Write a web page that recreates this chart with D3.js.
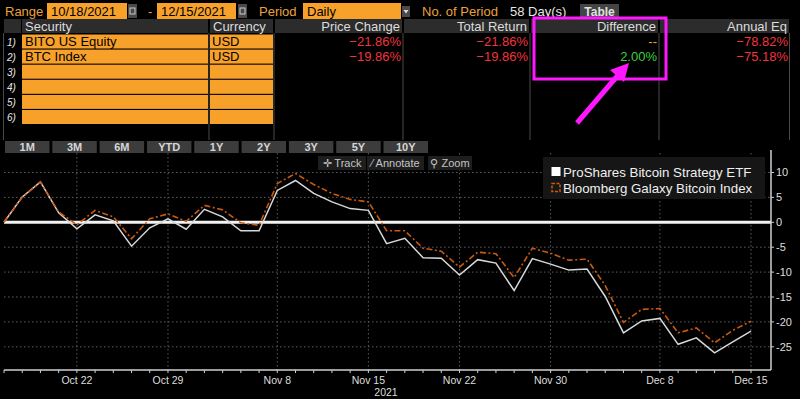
<!DOCTYPE html>
<html lang="en">
<head>
<meta charset="UTF-8">
<title>BITO vs BTC Index</title>
<script src="https://d3js.org/d3.v7.min.js"></script>
<style>
  body { margin: 0; background: #000; overflow: hidden; }
  svg text { font-family: "Liberation Sans", Arial, sans-serif; }
</style>
</head>
<body>
<script>
// trading days shown on the chart
const dates = [
  "2021-10-18","2021-10-19","2021-10-20","2021-10-21","2021-10-22",
  "2021-10-25","2021-10-26","2021-10-27","2021-10-28","2021-10-29",
  "2021-11-01","2021-11-02","2021-11-03","2021-11-04","2021-11-05",
  "2021-11-08","2021-11-09","2021-11-10","2021-11-11","2021-11-12",
  "2021-11-15","2021-11-16","2021-11-17","2021-11-18","2021-11-19",
  "2021-11-22","2021-11-23","2021-11-24","2021-11-26",
  "2021-11-29","2021-11-30","2021-12-01","2021-12-02","2021-12-03",
  "2021-12-06","2021-12-07","2021-12-08","2021-12-09","2021-12-10",
  "2021-12-13","2021-12-14","2021-12-15"
];
// ProShares Bitcoin Strategy ETF, % change
const bito = [0, 5.1, 8.1, 1.9, -1.3, 1.5, 0.3, -4.8, -1.1, 0.7,
  -1.4, 2.6, 1.1, -1.7, -1.7, 6.4, 8.4, 5.8, 4.1, 2.75,
  2.4, -4.3, -3.2, -7.1, -7.2, -10.6, -7.5, -8.2, -13.7,
  -7.3, -8.4, -9.6, -9.4, -14.9, -22.2, -19.8, -19.3, -24.5, -23.2,
  -26.2, -24.0, -21.86];
// Bloomberg Galaxy Bitcoin Index, % change
const btc = [0, 5.0, 8.1, 2.1, -0.5, 2.4, 1.1, -3.3, 0.7, 1.7,
  0.2, 3.4, 2.5, -0.1, -0.6, 7.8, 9.8, 7.6, 5.8, 4.6,
  4.1, -1.7, -1.7, -5.2, -5.8, -9.0, -6.0, -6.3, -11.1,
  -5.2, -6.2, -7.6, -7.4, -12.7, -20.1, -17.5, -17.3, -22.2, -21.2,
  -24.2, -21.7, -19.86];
const xLabelDates = ["2021-10-22","2021-10-29","2021-11-08","2021-11-15","2021-11-22","2021-11-30","2021-12-08","2021-12-15"];
const yTicks = [10, 5, 0, -5, -10, -15, -20, -25];

// table
const securities = ["BITO US Equity", "BTC Index"];
const currencies = ["USD", "USD"];
const priceChange = [-21.86, -19.86];
const totalReturn = [-21.86, -19.86];
const difference = [null, 2.00];
const annualEq = [-78.82, -75.18];
const periods = ["1M","3M","6M","YTD","1Y","2Y","3Y","5Y","10Y"];
const seriesNames = ["ProShares Bitcoin Strategy ETF", "Bloomberg Galaxy Bitcoin Index"];

const W = 800, H = 399;
const ORANGE = "#f7a12b", LABEL = "#eba23a", RED = "#f0343e", GREEN = "#38d23a";

const svg = d3.select("body").append("svg")
  .attr("width", W).attr("height", H)
  .style("background", "#000");

// ---------- top bar ----------
const bar = svg.append("g");
bar.append("text").attr("x", 5).attr("y", 16).attr("fill", LABEL).attr("font-size", 13).text("Range");
function inputBox(x, w, txt) {
  bar.append("rect").attr("x", x).attr("y", 3).attr("width", w).attr("height", 16).attr("fill", ORANGE);
  bar.append("text").attr("x", x + 4).attr("y", 16).attr("fill", "#000").attr("font-size", 13).text(txt);
}
function calIcon(x) {
  bar.append("rect").attr("x", x).attr("y", 4).attr("width", 9).attr("height", 14).attr("fill", "#4a4a4a");
  bar.append("rect").attr("x", x + 2).attr("y", 8).attr("width", 5).attr("height", 6)
    .attr("fill", "none").attr("stroke", "#ccc").attr("stroke-width", 1);
}
inputBox(47, 80, "10/18/2021"); calIcon(128);
bar.append("text").attr("x", 148).attr("y", 16).attr("fill", LABEL).attr("font-size", 13).text("-");
inputBox(157, 79, "12/15/2021"); calIcon(238);
bar.append("text").attr("x", 259).attr("y", 16).attr("fill", LABEL).attr("font-size", 13).text("Period");
inputBox(303, 98, "Daily");
bar.append("rect").attr("x", 402).attr("y", 6).attr("width", 8).attr("height", 11).attr("fill", "#4a4a4a");
bar.append("path").attr("d", "M403.5,10L408.5,10L406,13.5Z").attr("fill", "#ddd");
bar.append("text").attr("x", 422).attr("y", 16).attr("fill", LABEL).attr("font-size", 13).text("No. of Period");
bar.append("text").attr("x", 510).attr("y", 16).attr("fill", "#e6e6e6").attr("font-size", 13).text("58 Day(s)");
bar.append("rect").attr("x", 580).attr("y", 4).attr("width", 39).attr("height", 15).attr("fill", "#444");
bar.append("text").attr("x", 599.5).attr("y", 16).attr("text-anchor", "middle").attr("fill", "#e0e0e0")
  .attr("font-size", 12).attr("font-weight", "bold").text("Table");

// ---------- table ----------
const cols = [
  {x0: 4, x1: 21, head: "", anchor: "start"},
  {x0: 22, x1: 208, head: "Security", anchor: "start"},
  {x0: 210, x1: 273, head: "Currency", anchor: "start"},
  {x0: 275, x1: 402, head: "Price Change", anchor: "end"},
  {x0: 404, x1: 529, head: "Total Return", anchor: "end"},
  {x0: 531, x1: 658, head: "Difference", anchor: "end"},
  {x0: 660, x1: 789, head: "Annual Eq", anchor: "end"}
];
const tbl = svg.append("g");
cols.forEach(c => {
  tbl.append("rect").attr("x", c.x0).attr("y", 19).attr("width", c.x1 - c.x0).attr("height", 14).attr("fill", "#2c2c2c");
  if (c.head) {
    tbl.append("text")
      .attr("x", c.anchor === "start" ? c.x0 + 3 : c.x1 - 2)
      .attr("y", 30.5).attr("text-anchor", c.anchor)
      .attr("fill", "#dcdcdc").attr("font-size", 13).text(c.head);
  }
});
// vertical separators
[3.5, 209, 274, 403, 530, 659, 789.5].forEach(x => {
  tbl.append("line").attr("x1", x).attr("x2", x).attr("y1", 33).attr("y2", 140)
    .attr("stroke", "#4a4a4a").attr("stroke-width", 1);
});
const rowY = d3.range(6).map(i => 34.5 + i * 15.1);
rowY.forEach((y, i) => {
  tbl.append("text").attr("x", 7).attr("y", y + 11).attr("fill", "#e8e8e8")
    .attr("font-size", 10).attr("font-style", "italic").text((i + 1) + ")");
  tbl.append("rect").attr("x", 22).attr("y", y).attr("width", 186).attr("height", 14).attr("fill", ORANGE);
  tbl.append("rect").attr("x", 210).attr("y", y).attr("width", 63).attr("height", 14).attr("fill", ORANGE);
});
const fmt = v => d3.format(".2f")(v) + "%";
securities.forEach((s, i) => {
  const y = rowY[i] + 11.5;
  tbl.append("text").attr("x", 25).attr("y", y).attr("fill", "#000").attr("font-size", 13).text(s);
  tbl.append("text").attr("x", 212).attr("y", y).attr("fill", "#000").attr("font-size", 13).text(currencies[i]);
  tbl.append("text").attr("x", 401).attr("y", y).attr("text-anchor", "end").attr("fill", RED).attr("font-size", 13).text(fmt(priceChange[i]));
  tbl.append("text").attr("x", 528).attr("y", y).attr("text-anchor", "end").attr("fill", RED).attr("font-size", 13).text(fmt(totalReturn[i]));
  tbl.append("text").attr("x", 657).attr("y", y).attr("text-anchor", "end")
    .attr("fill", difference[i] == null ? LABEL : GREEN).attr("font-size", 13)
    .text(difference[i] == null ? "--" : fmt(difference[i]));
  tbl.append("text").attr("x", 788).attr("y", y).attr("text-anchor", "end").attr("fill", RED).attr("font-size", 13).text(fmt(annualEq[i]));
});

// period buttons
const bx = d3.scaleBand().domain(periods).range([5, 428]).paddingInner(0.06);
const btn = svg.append("g").selectAll("g").data(periods).join("g")
  .attr("transform", d => `translate(${bx(d)},141)`);
btn.append("rect").attr("width", bx.bandwidth()).attr("height", 12).attr("fill", "#3c3c3c");
btn.append("text").attr("x", bx.bandwidth() / 2).attr("y", 10).attr("text-anchor", "middle")
  .attr("fill", "#d6d6d6").attr("font-size", 11).attr("font-weight", "bold").text(d => d);

// ---------- chart ----------
const parse = d3.timeParse("%Y-%m-%d");
const fmtTick = d3.timeFormat("%b %-d");
const x = d3.scaleLinear().domain([0, dates.length - 1]).range([4, 751]);
const y = d3.scaleLinear().domain([-25, 10]).range([346.8, 172.5]);
const plotTop = 150, plotBottom = 370, axisX = 771;

const chart = svg.append("g");
// grid
chart.append("g").selectAll("line").data(yTicks.filter(v => v !== 0)).join("line")
  .attr("x1", 4).attr("x2", axisX).attr("y1", d => y(d)).attr("y2", d => y(d))
  .attr("stroke", "#5c5c5c").attr("stroke-dasharray", "1.5,2.5");
const labelIdx = xLabelDates.map(d => dates.indexOf(d));
chart.append("g").selectAll("line").data(labelIdx).join("line")
  .attr("x1", d => x(d)).attr("x2", d => x(d)).attr("y1", 153).attr("y2", plotBottom)
  .attr("stroke", "#5c5c5c").attr("stroke-dasharray", "1.5,2.5");

// toolbar
const tools = [["✛ Track", 318, 48], ["⁄ Annotate", 367, 57], ["⚲ Zoom", 428, 44]];
tools.forEach(t => {
  chart.append("rect").attr("x", t[1]).attr("y", 156).attr("width", t[2]).attr("height", 14).attr("fill", "#1e1e1e");
  chart.append("text").attr("x", t[1] + t[2] / 2).attr("y", 167).attr("text-anchor", "middle")
    .attr("fill", "#c4c4c4").attr("font-size", 11).text(t[0]);
});

// zero line
chart.append("line").attr("x1", 4).attr("x2", axisX).attr("y1", y(0)).attr("y2", y(0))
  .attr("stroke", "#f2f2f2").attr("stroke-width", 3);

// series
const line = d3.line().x((d, i) => x(i)).y(d => y(d));
chart.append("path").datum(bito).attr("d", line)
  .attr("fill", "none").attr("stroke", "#d8d8d8").attr("stroke-width", 1.5);
chart.append("path").datum(btc).attr("d", line)
  .attr("fill", "none").attr("stroke", "#c9590e").attr("stroke-width", 1.6)
  .attr("stroke-dasharray", "6,2.5,2,2.5");

// y axis (right)
const yAxis = chart.append("g").attr("transform", `translate(${axisX},0)`);
yAxis.append("line").attr("y1", plotTop).attr("y2", plotBottom).attr("stroke", "#d0d0d0").attr("stroke-width", 1.5);
yAxis.selectAll(".yt").data(yTicks).join("g").attr("class", "yt")
  .attr("transform", d => `translate(0,${y(d)})`)
  .call(g => g.append("line").attr("x2", 3).attr("stroke", "#d0d0d0"))
  .call(g => g.append("text").attr("x", 5).attr("dy", "0.35em").attr("fill", "#dedede")
    .attr("font-size", 11).text(d => d));

// x axis
const xAxis = chart.append("g").attr("transform", `translate(0,${plotBottom})`);
xAxis.append("line").attr("x1", 4).attr("x2", axisX).attr("stroke", "#d0d0d0").attr("stroke-width", 1.5);
xAxis.selectAll(".xm").data(d3.range(dates.length)).join("line").attr("class", "xm")
  .attr("x1", d => x(d)).attr("x2", d => x(d)).attr("y1", 0).attr("y2", 3).attr("stroke", "#d0d0d0");
xAxis.selectAll(".xl").data(labelIdx).join("text").attr("class", "xl")
  .attr("x", d => x(d)).attr("y", 14).attr("text-anchor", "middle")
  .attr("fill", "#dedede").attr("font-size", 10.5).text(d => fmtTick(parse(dates[d])));
xAxis.append("text").attr("x", 386).attr("y", 25.5).attr("text-anchor", "middle")
  .attr("fill", "#dedede").attr("font-size", 10.5).text("2021");

// legend
const leg = chart.append("g");
leg.append("rect").attr("x", 543).attr("y", 157).attr("width", 222).attr("height", 42).attr("fill", "#161616");
leg.append("rect").attr("x", 551.5).attr("y", 167).attr("width", 9).attr("height", 9).attr("fill", "#ffffff");
leg.append("rect").attr("x", 552).attr("y", 183.5).attr("width", 8).attr("height", 8)
  .attr("fill", "none").attr("stroke", "#c9590e").attr("stroke-width", 1.5).attr("stroke-dasharray", "3,1.5");
leg.selectAll(".lt").data(seriesNames).join("text").attr("class", "lt")
  .attr("x", 563).attr("y", (d, i) => 177 + i * 15.5)
  .attr("fill", "#f0f0f0").attr("font-size", 13.3).text(d => d);

// ---------- highlight annotation ----------
svg.append("rect").attr("x", 534).attr("y", 18).attr("width", 132).attr("height", 61)
  .attr("fill", "none").attr("stroke", "#ff18ff").attr("stroke-width", 3);
svg.append("line").attr("x1", 577).attr("y1", 123).attr("x2", 619).attr("y2", 74)
  .attr("stroke", "#ff18ff").attr("stroke-width", 5);
svg.append("path").attr("d", "M629,63L624,82L610,70Z").attr("fill", "#ff18ff");
</script>
</body>
</html>
